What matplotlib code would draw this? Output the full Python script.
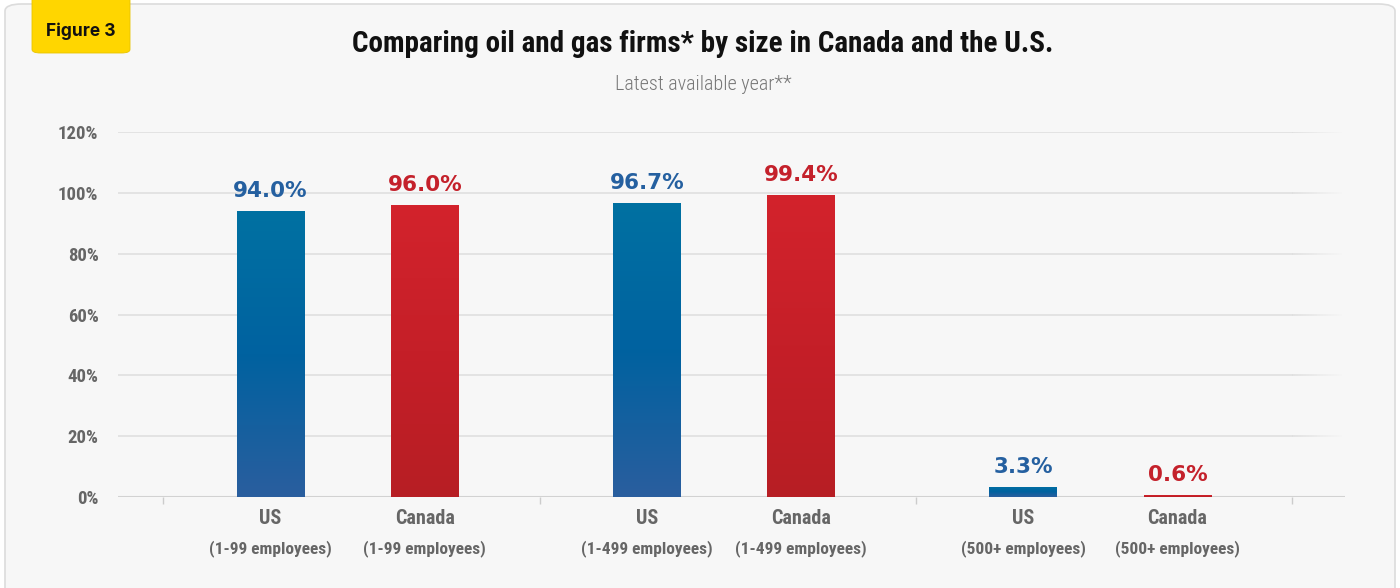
import numpy as np
import matplotlib
matplotlib.use('Agg')
import matplotlib.pyplot as plt
from matplotlib import font_manager as fm
from matplotlib.colors import LinearSegmentedColormap
from matplotlib.patches import FancyBboxPatch
import matplotlib.transforms as mtransforms

# data
groups = ['1-99 employees', '1-499 employees', '500+ employees']
us = [94.0, 96.7, 3.3]
canada = [96.0, 99.4, 0.6]
yticks = [0, 20, 40, 60, 80, 100, 120]

names = {f.name for f in fm.fontManager.ttflist}
narrow = 'Roboto Condensed' if 'Roboto Condensed' in names else 'Liberation Sans Narrow'
badge_font = 'Inter' if 'Inter' in names else 'DejaVu Sans'

grey = '#666666'
blue_txt = '#2560a0'
red_txt = '#c4212b'
blue_cm = LinearSegmentedColormap.from_list('b', ['#0071a2', '#0062a0', '#2a5e9e'])
red_cm = LinearSegmentedColormap.from_list('r', ['#d3232c', '#c51f28', '#b71e24'])

fig = plt.figure(figsize=(14, 5.88), dpi=100, facecolor='white')

# panel background
panel = FancyBboxPatch((5 / 1400, -0.1), 1390 / 1400, 1.1 - 4 / 588,
                       boxstyle='round,pad=0,rounding_size=0.012',
                       transform=fig.transFigure, facecolor='#f7f7f7',
                       edgecolor='#dcdcdc', linewidth=1.2, zorder=-10)
fig.patches.append(panel)

# Figure 3 badge
badge = FancyBboxPatch((32 / 1400, 1 - 53 / 588), 98 / 1400, 60 / 588,
                       boxstyle='round,pad=0,rounding_size=0.006',
                       transform=fig.transFigure, facecolor='#ffd600',
                       edgecolor='#e8c400', linewidth=0.6, zorder=-5)
fig.patches.append(badge)
fig.text(81 / 1400, 1 - 31 / 588, 'Figure 3', family=badge_font, weight='bold',
         fontsize=12.5, color='#111111', ha='center', va='center')

fig.text(703 / 1400, 1 - 44 / 588,
         'Comparing oil and gas firms* by size in Canada and the U.S.',
         family=narrow, weight='heavy', fontsize=21, color='#111111',
         ha='center', va='center')
fig.text(703 / 1400, 1 - 85 / 588, 'Latest available year**', family=narrow,
         weight='light', fontsize=14.5, color='#777777', ha='center', va='center')

ax = fig.add_axes([118 / 1400, 91 / 588, (1345 - 118) / 1400, 365 / 588])
ax.set_facecolor('none')
for s in ax.spines.values():
    s.set_visible(False)

x = np.arange(len(groups))
w = 0.18
off_us = 0.215
off_ca = 0.195
bars_us = ax.bar(x - off_us, us, w, color='#0068a1', zorder=3)
bars_ca = ax.bar(x + off_ca, canada, w, color='#c8202a', zorder=3)

# gradient fill clipped to bars
grad = np.linspace(0, 1, 256).reshape(-1, 1)
for bars, cm in [(bars_us, blue_cm), (bars_ca, red_cm)]:
    for b in bars:
        x0 = b.get_x()
        im = ax.imshow(grad, extent=[x0, x0 + b.get_width(), 0, b.get_height()],
                       origin='upper', aspect='auto', cmap=cm, zorder=4)
        im.set_clip_path(b)

for bars, vals, col in [(bars_us, us, blue_txt), (bars_ca, canada, red_txt)]:
    for b, v in zip(bars, vals):
        ax.annotate(f'{v:.1f}%', (b.get_x() + b.get_width() / 2, v),
                    xytext=(0, 7), textcoords='offset points', ha='center',
                    va='bottom', fontsize=15.5, weight='bold', color=col,
                    family='DejaVu Sans', zorder=5)

# grid lines, fading out at the right end
xl = (-0.62, 2.64)
fade_x = np.linspace(2.5, xl[1], 20)
for t in yticks[1:]:
    ax.plot([xl[0], 2.5], [t, t], color='#dddddd', lw=1.1, zorder=1)
    for a, (u, v) in zip(np.linspace(1, 0, 19), zip(fade_x[:-1], fade_x[1:])):
        ax.plot([u, v], [t, t], color='#dddddd', lw=1.1, alpha=a, zorder=1,
                solid_capstyle='butt')
ax.axhline(0, color='#d2d2d2', lw=2.2, zorder=2)

ax.set_xlim(*xl)
ax.set_ylim(0, 120)
ax.set_yticks(yticks)
ax.set_yticklabels([f'{t}%' for t in yticks], family=narrow, weight='bold',
                   fontsize=13.5, color=grey)
ax.tick_params(axis='y', length=0, pad=14)
ax.set_xticks([-0.5, 0.5, 1.5, 2.5])
ax.set_xticklabels([])
ax.tick_params(axis='x', length=5, width=1, color='#cccccc', direction='out')

trans = mtransforms.blended_transform_factory(ax.transData, ax.transAxes)
for i, g in enumerate(groups):
    for name, dx in [('US', -off_us), ('Canada', off_ca)]:
        ax.text(i + dx, -22 / 365, name, transform=trans, ha='center', va='center',
                family=narrow, weight='bold', fontsize=14.5, color=grey)
        ax.text(i + dx, -52 / 365, f'({g})', transform=trans, ha='center',
                va='center', family=narrow, weight='bold', fontsize=12.5, color=grey)

fig.savefig('out.png', dpi=100, facecolor=fig.get_facecolor())
